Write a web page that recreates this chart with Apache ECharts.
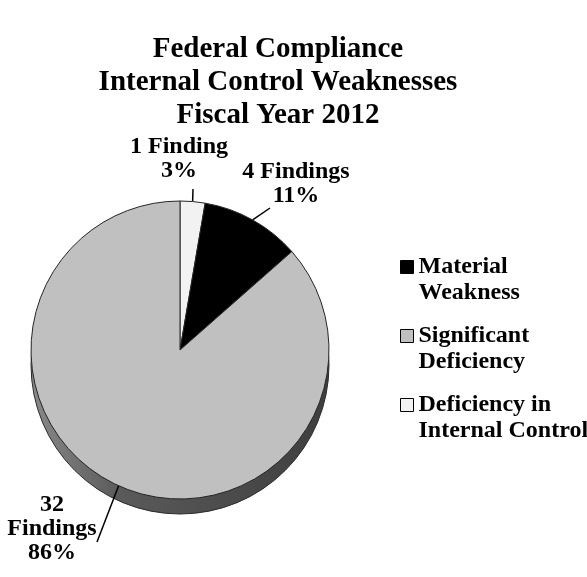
<!DOCTYPE html>
<html>
<head>
<meta charset="utf-8">
<title>Federal Compliance Internal Control Weaknesses FY2012</title>
<script src="https://cdn.jsdelivr.net/npm/echarts@6/dist/echarts.min.js"></script>
<style>
  html, body { margin: 0; padding: 0; background: #ffffff; }
  #chart { width: 587px; height: 577px; }
</style>
</head>
<body>
<div id="chart"></div>
<script>
// Findings by category, in the order the slices run clockwise from 12 o'clock
const categories = ['Deficiency in Internal Control', 'Material Weakness', 'Significant Deficiency'];
const findings = [1, 4, 32];
// Legend order and the two-line legend captions
const legendOrder = ['Material Weakness', 'Significant Deficiency', 'Deficiency in Internal Control'];
const legendCaptions = {
  'Material Weakness': 'Material\nWeakness',
  'Significant Deficiency': 'Significant\nDeficiency',
  'Deficiency in Internal Control': 'Deficiency in\nInternal Control'
};
// Whether the count sits on its own line above "Findings"
const countOnOwnLine = [false, false, true];

const sliceColors = ['#f2f2f2', '#000000', '#c0c0c0'];
const FONT = '"Liberation Serif", "Times New Roman", serif';

// Where each slice label is anchored, and where its leader line meets the text
const labelSpots = [
  { x: 179, y: 183, align: 'center', verticalAlign: 'bottom', lineEnd: [14, 6] },
  { x: 296, y: 208, align: 'center', verticalAlign: 'bottom', lineEnd: [-26, 0] },
  { x: 52, y: 493, align: 'center', verticalAlign: 'top', lineEnd: [45, 49] }
];

const PIE_CENTER = [180, 350];
const PIE_RADIUS = 149;
const DEPTH = 15;

const total = findings.reduce((a, b) => a + b, 0);

const chart = echarts.init(document.getElementById('chart'), null, { renderer: 'canvas' });

chart.setOption({
  backgroundColor: '#ffffff',
  animation: false,
  title: {
    text: 'Federal Compliance\nInternal Control Weaknesses\nFiscal Year 2012',
    left: 278,
    textAlign: 'center',
    top: 33,
    padding: 0,
    textStyle: {
      fontFamily: FONT,
      fontWeight: 'bold',
      fontSize: 29,
      lineHeight: 33,
      color: '#000000'
    }
  },
  legend: {
    data: legendOrder,
    orient: 'vertical',
    left: 400,
    top: 228,
    padding: 0,
    itemGap: -9,
    itemWidth: 13,
    itemHeight: 13,
    icon: 'rect',
    selectedMode: false,
    itemStyle: { borderColor: '#000000', borderWidth: 1 },
    // a blank first line keeps the swatch level with the caption's first line
    formatter: name => '\n' + legendCaptions[name],
    textStyle: {
      fontFamily: FONT,
      fontWeight: 'bold',
      fontSize: 24,
      lineHeight: 26,
      color: '#000000'
    }
  },
  series: [
    {
      // Rim of the disc, showing below the top face
      name: 'rim',
      type: 'pie',
      silent: true,
      z: 1,
      center: [PIE_CENTER[0], PIE_CENTER[1] + DEPTH],
      radius: PIE_RADIUS,
      startAngle: 90,
      label: { show: false },
      labelLine: { show: false },
      itemStyle: {
        borderColor: '#2a2a2a',
        borderWidth: 1,
        color: new echarts.graphic.LinearGradient(0, 0, 1, 0, [
          { offset: 0, color: '#8a8a8a' },
          { offset: 0.3, color: '#5a5a5a' },
          { offset: 0.7, color: '#4a4a4a' },
          { offset: 1, color: '#3e3e3e' }
        ])
      },
      data: [{ name: 'rim', value: total }]
    },
    {
      name: 'Findings',
      type: 'pie',
      z: 2,
      center: PIE_CENTER,
      radius: PIE_RADIUS,
      startAngle: 90,
      clockwise: true,
      itemStyle: { borderColor: '#262626', borderWidth: 1 },
      emphasis: { disabled: true },
      label: {
        show: true,
        position: 'outside',
        fontFamily: FONT,
        fontWeight: 'bold',
        fontSize: 24,
        lineHeight: 24,
        color: '#000000',
        formatter: p => {
          const i = p.dataIndex;
          const word = p.value === 1 ? 'Finding' : 'Findings';
          return p.value + (countOnOwnLine[i] ? '\n' : ' ') + word + '\n' + Math.round(p.percent) + '%';
        }
      },
      labelLine: {
        show: true,
        length: 10,
        length2: 0,
        lineStyle: { color: '#000000', width: 1.5 }
      },
      labelLayout: params => {
        const s = labelSpots[params.dataIndex];
        const h = params.labelRect.height;
        const top = s.verticalAlign === 'bottom' ? s.y - h : s.y;
        const start = params.labelLinePoints ? params.labelLinePoints[0] : [s.x, s.y];
        const endX = s.x + s.lineEnd[0];
        const endY = s.verticalAlign === 'bottom' ? s.y + s.lineEnd[1] : top + s.lineEnd[1];
        return {
          x: s.x,
          y: s.y,
          align: s.align,
          verticalAlign: s.verticalAlign,
          labelLinePoints: [start, [endX, endY], [endX, endY]]
        };
      },
      data: categories.map((name, i) => ({
        name: name,
        value: findings[i],
        itemStyle: { color: sliceColors[i] }
      }))
    }
  ]
});
</script>
</body>
</html>
